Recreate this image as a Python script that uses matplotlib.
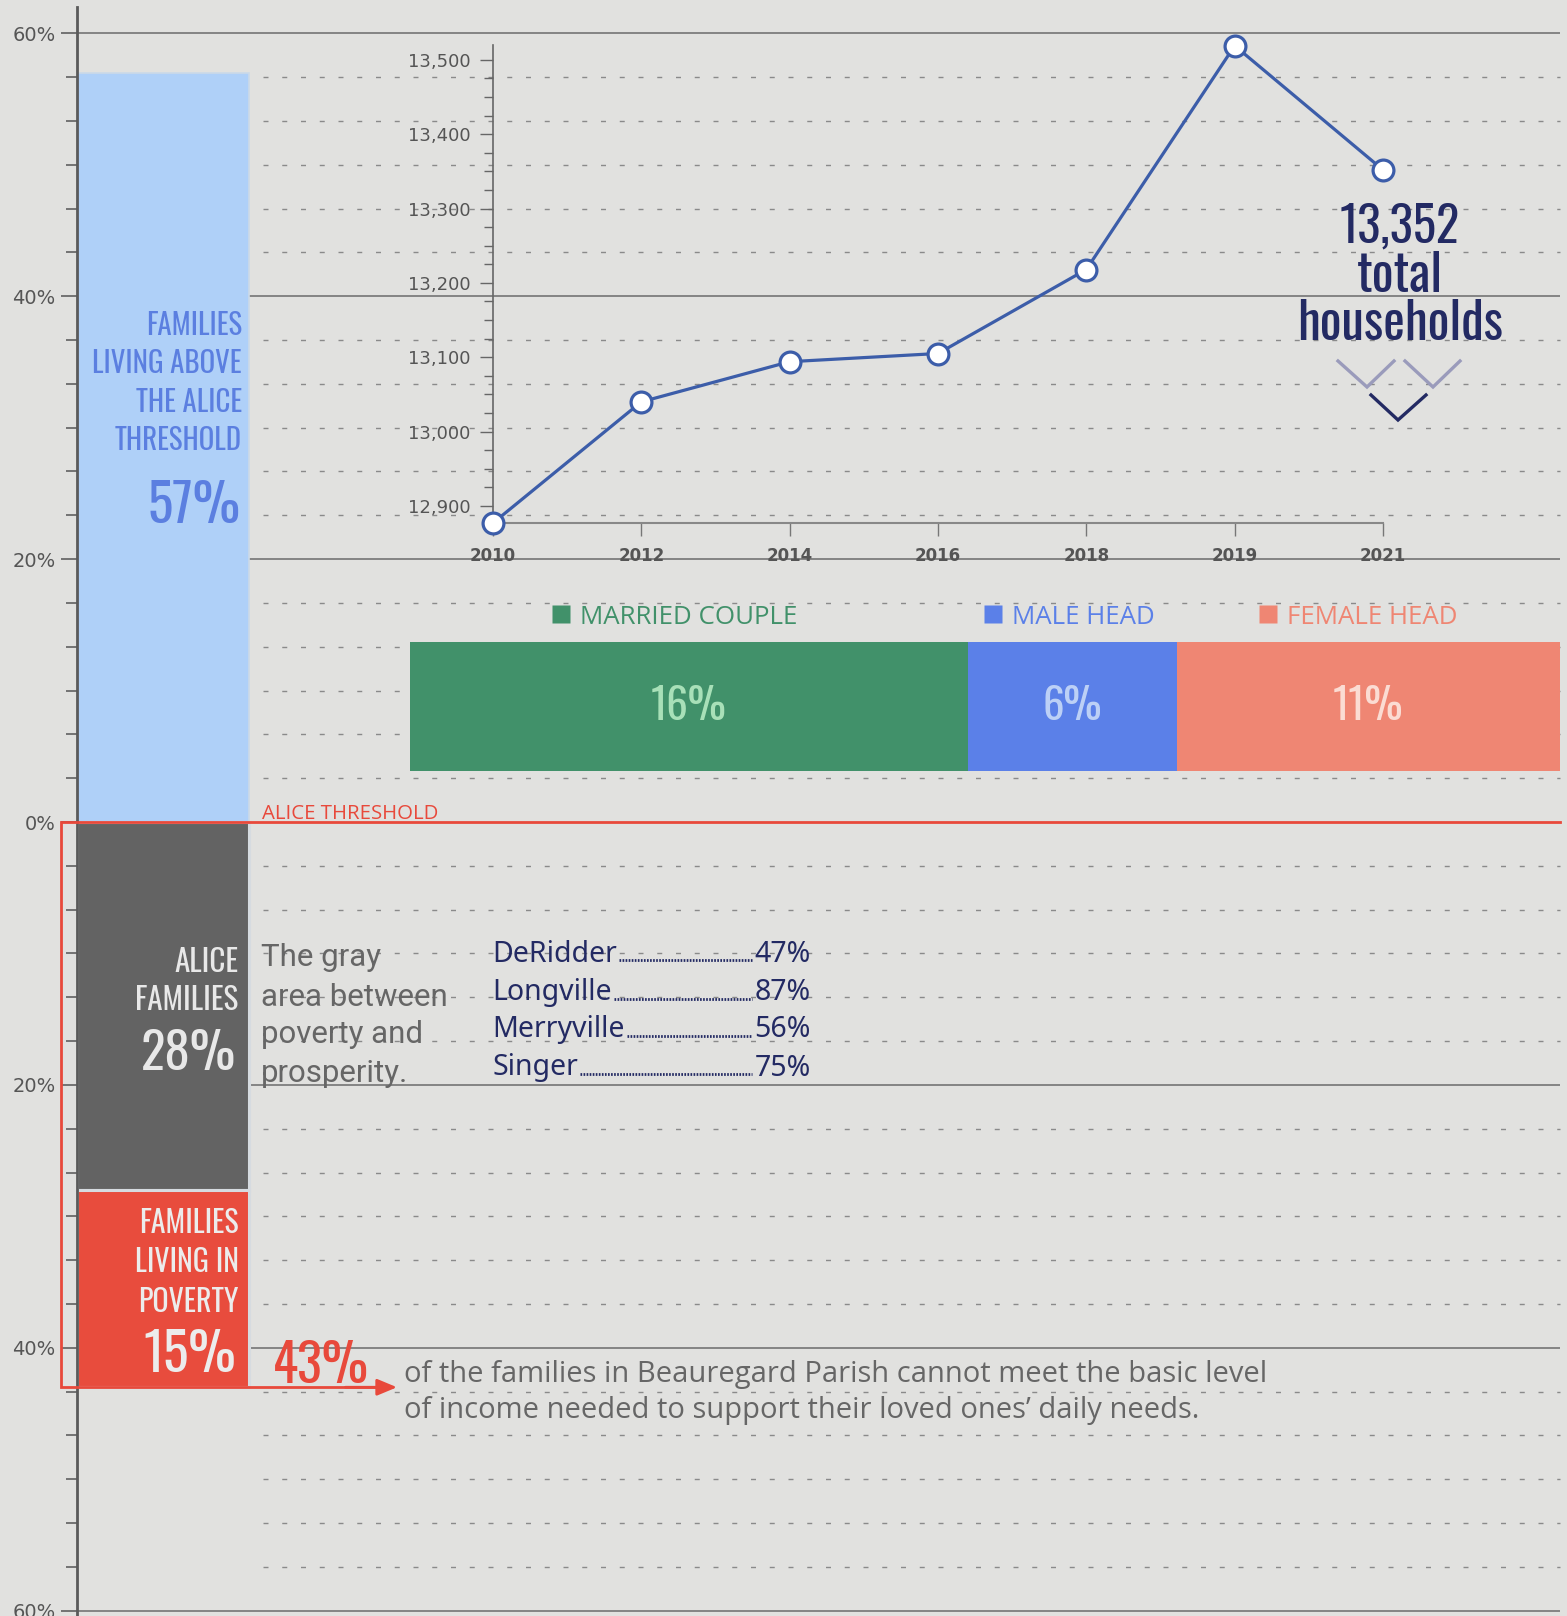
import matplotlib
matplotlib.use('Agg')
import matplotlib.pyplot as plt
from matplotlib import font_manager as fm
from matplotlib.textpath import TextPath
import numpy as np

# ---- data ----
years = ['2010', '2012', '2014', '2016', '2018', '2019', '2021']
households = [12877, 13040, 13094, 13105, 13218, 13519, 13352]
above_pct = 57
alice_pct = 28
poverty_pct = 15
family_types = ['MARRIED COUPLE', 'MALE HEAD', 'FEMALE HEAD']
family_pct = [16, 6, 11]
towns = ['DeRidder', 'Longville', 'Merryville', 'Singer']
town_pct = [47, 87, 56, 75]

# ---- look ----
W, H, DPI = 1567, 1616, 100
BG = '#e1e1df'
RED = '#e8493b'
NAVY = '#232a63'
GRAY_TXT = '#666666'
fam_colors = ['#41916a', '#5b80e8', '#ef8673']
fam_light = ['#a8e0b8', '#bcd0f6', '#fbdcd3']

avail = {f.name for f in fm.fontManager.ttflist}
def pick(cands, default='DejaVu Sans'):
    for c in cands:
        if c in avail:
            return c
    return default

COND = pick(['Oswald', 'League Gothic', 'Noto Sans ExtraCondensed', 'Noto Sans Condensed',
             'Roboto Condensed', 'Liberation Sans Narrow', 'DejaVu Sans Condensed'])
BODY = pick(['Open Sans'])
ROBO = pick(['Roboto'])
NOTO = pick(['Noto Sans'])
TICK = 'DejaVu Sans'

fig = plt.figure(figsize=(W / DPI, H / DPI), dpi=DPI, facecolor=BG)
rend = fig.canvas.get_renderer()

def fx(px):
    return px / W
def fy(py):
    return 1 - py / H

# ---- main percentage column ----
ax = fig.add_axes([fx(77), 0, 1 - fx(77), 1])
ax.set_facecolor('none')
unit = 172.0                      # bar width in px
xmax = (W - 77) / unit
ax.set_xlim(0, xmax)
ax.set_ylim(-60.40, 62.53)

ax.bar(0, above_pct, width=1, align='edge', color='#afd0f8', edgecolor='#cbd9e8', linewidth=1.2, zorder=2)
ax.bar(0, -alice_pct, width=1, align='edge', color='#636363', edgecolor='#d6dbe0', linewidth=2.2, zorder=2)
ax.bar(0, -poverty_pct, bottom=-alice_pct, width=1, align='edge', color='#e84c3d',
       edgecolor='#d6dbe0', linewidth=2.2, zorder=2)

major = np.arange(-60, 61, 20)
minor = np.arange(-60, 60.01, 20 / 6)
ax.set_yticks(major)
ax.set_yticklabels([f'{abs(v)}%' for v in major])
ax.set_yticks(minor, minor=True)
ax.set_xticks([])
ax.tick_params(axis='y', which='major', length=11.5, width=1.1, color='#555555', pad=4,
               labelsize=14, labelcolor='#555555')
ax.tick_params(axis='y', which='minor', length=8, width=1.1, color='#555555')
for lab in ax.get_yticklabels():
    lab.set_family(TICK)
for s in ['top', 'right', 'bottom']:
    ax.spines[s].set_visible(False)
ax.spines['left'].set_color('#5a5a5a')
ax.spines['left'].set_linewidth(2)
ax.spines['left'].set_bounds(-60.4, 62.0)
ax.spines['left'].set_zorder(4)

line_end = (1560 - 77) / unit
dash_vals = [v for v in minor if abs(round(v, 4) % 20) > 1e-3 and abs(round(v, 4) % 20 - 20) > 1e-3]
ax.hlines(dash_vals, (263 - 77) / unit, line_end, colors='#8a8a8a', lw=1,
          linestyles=(0, (3.6, 9.9)), zorder=1)
ax.hlines([v for v in major if v != 0], 0, line_end, colors='#6b6b6b', lw=1.1, zorder=1)

# ALICE threshold box + arrow
thr_bottom = -(alice_pct + poverty_pct)
xl = (61 - 77) / unit
tip = (397 - 77) / unit
ax.plot([line_end, xl, xl, tip - 0.1], [0, 0, thr_bottom, thr_bottom], color=RED, lw=2,
        clip_on=False, zorder=6, solid_joinstyle='miter')
ax.annotate('', xy=(tip, thr_bottom), xytext=(tip - 0.3, thr_bottom), annotation_clip=False,
            arrowprops=dict(arrowstyle='-|>,head_length=0.6,head_width=0.25', color=RED,
                            lw=2, mutation_scale=20, shrinkA=0, shrinkB=0), zorder=6)

# ---- households line chart ----
lx0, lx1, ly0, ly1 = 493, 1383, 45, 523
axl = fig.add_axes([fx(lx0), fy(ly1), fx(lx1) - fx(lx0), fy(ly0) - fy(ly1)])
axl.set_facecolor('none')
xs = np.arange(len(years))
axl.plot(xs, households, color='#3c5da9', lw=2.3, marker='o', ms=15, mfc='white',
         mec='#3c5da9', mew=2.3, clip_on=False, zorder=5)
axl.set_xlim(0, len(years) - 1)
axl.set_ylim(12877, 13520)
axl.set_xticks(xs)
axl.set_xticklabels(years, family=TICK, weight='bold', fontsize=12, color='#555555')
yt = np.arange(12900, 13501, 100)
axl.set_yticks(yt)
axl.set_yticklabels([f'{v:,}' for v in yt], family=TICK, fontsize=13, color='#555555')
axl.set_yticks(np.arange(12900, 13501, 25), minor=True)
axl.tick_params(axis='y', which='major', length=9.4, width=1, color='#666666', pad=7)
axl.tick_params(axis='y', which='minor', length=6.5, width=1, color='#666666')
axl.tick_params(axis='x', length=9.4, width=1, color='#777777', pad=8)
for s in ['top', 'right']:
    axl.spines[s].set_visible(False)
axl.spines['left'].set_color('#666666')
axl.spines['left'].set_linewidth(1.2)
axl.spines['bottom'].set_color('#888888')
axl.spines['bottom'].set_linewidth(1.5)

# ---- family type stacked bar ----
bx0, bx1, by0, by1 = 410, 1560, 642, 771
axb = fig.add_axes([fx(bx0), fy(by1), fx(bx1) - fx(bx0), fy(by0) - fy(by1)])
axb.axis('off')
axb.set_xlim(0, sum(family_pct))
axb.set_ylim(-0.5, 0.5)

# ---- overlay for text and decoration (pixel coordinates) ----
ov = fig.add_axes([0, 0, 1, 1])
ov.set_xlim(0, W)
ov.set_ylim(H, 0)
ov.axis('off')
ov.patch.set_alpha(0)

def cap_ratio(family, weight):
    p = TextPath((0, 0), 'H', size=100, prop=fm.FontProperties(family=family, weight=weight))
    return p.get_extents().height / 100

def fit_size(lines, family, weight, cap_px, max_w):
    size = cap_px / cap_ratio(family, weight) * 72 / DPI
    widest = 0
    for s in lines:
        t = ov.text(0, 0, s, fontsize=size, family=family, weight=weight)
        widest = max(widest, t.get_window_extent(rend).width)
        t.remove()
    if widest > max_w:
        size *= max_w / widest
    return size

def block(lines, baselines, x, cap_px, max_w, color, weight='bold', ha='right', family=COND):
    size = fit_size(lines, family, weight, cap_px, max_w)
    for s, b in zip(lines, baselines):
        ov.text(x, b, s, fontsize=size, family=family, weight=weight, color=color,
                ha=ha, va='baseline')

# stacked bar segments and labels
left = 0
num_size = fit_size(['16%'], COND, 'normal', 36, 76)
for name, v, c, lc in zip(family_types, family_pct, fam_colors, fam_light):
    axb.barh(0, v, left=left, height=1, color=c)
    axb.text(left + v / 2, 0, f'{v}%', fontsize=num_size, family=COND, color=lc,
             ha='center', va='center')
    left += v

# legend
leg_size = fit_size(['MARRIED COUPLE'], BODY, 'normal', 18.5, 228)
for name, c, sx in zip(family_types, fam_colors, [561, 993, 1268]):
    ov.plot([sx], [614], marker='s', ms=12.5, color=c, mec='none')
    ov.text(sx + 19, 614, name, fontsize=leg_size, family=BODY, color=c, ha='left', va='center_baseline')

# column labels
BLUE_T = '#5b7fe0'
block(['FAMILIES', 'LIVING ABOVE', 'THE ALICE', 'THRESHOLD'], [335, 373, 411.5, 450], 242, 27.5, 149, BLUE_T)
block([f'{above_pct}%'], [523], 240, 43, 95, BLUE_T)
block(['ALICE', 'FAMILIES'], [971.5, 1010.5], 238, 27, 103, '#e8e8e8')
block([f'{alice_pct}%'], [1070], 236, 43, 95, '#e8e8e8')
block(['FAMILIES', 'LIVING IN', 'POVERTY'], [1233, 1271.5, 1311.5], 239, 27, 104, '#ececec')
block([f'{poverty_pct}%'], [1371.5], 236, 43, 95, '#ececec')
block([f'{alice_pct + poverty_pct}%'], [1383], 273, 42, 96, RED, weight='normal', ha='left')

ov.text(262, 819, 'ALICE THRESHOLD', fontsize=14.7, family=BODY, color=RED, ha='left', va='baseline')

# total households callout
block([f'{households[-1]:,}'], [243], 1400, 41.5, 120, NAVY, ha='center')
block(['total'], [291.5], 1400, 41.5, 90, NAVY, ha='center')
block(['households'], [340], 1400, 41.5, 218, NAVY, ha='center')
for pts, col in [([(1338, 361), (1367, 387), (1394, 361)], '#9a9bbb'),
                 ([(1405, 361), (1433, 387), (1460, 361)], '#9a9bbb'),
                 ([(1371, 395), (1398, 420), (1426, 395)], NAVY)]:
    ov.plot([p[0] for p in pts], [p[1] for p in pts], color=col, lw=2.4, solid_joinstyle='miter')

# gray area description
for s, b in zip(['The gray', 'area between', 'poverty and', 'prosperity.'], [966.5, 1005.5, 1043, 1081.5]):
    ov.text(261, b, s, fontsize=22.5, family=ROBO, color=GRAY_TXT, ha='left', va='baseline')

# towns list with dot leaders
for name, v, b in zip(towns, town_pct, [961.5, 1000, 1037, 1075.5]):
    t1 = ov.text(492, b, name, fontsize=20.5, family=NOTO, color=NAVY, ha='left', va='baseline')
    t2 = ov.text(811, b, f'{v}%', fontsize=20.5, family=NOTO, color=NAVY, ha='right', va='baseline')
    e1 = t1.get_window_extent(rend)
    e2 = t2.get_window_extent(rend)
    ov.plot([e1.x1 + 2, e2.x0 - 3], [b - 1.5, b - 1.5], color=NAVY, lw=2,
            linestyle=(0, (0.6, 0.5)))

# bottom statement
stmt = ['of the families in Beauregard Parish cannot meet the basic level',
        "of income needed to support their loved ones\u2019 daily needs."]
t = ov.text(0, 0, stmt[0], fontsize=20, family=BODY)
sw = t.get_window_extent(rend).width
t.remove()
ssize = min(21, max(17, 20 * 875 / sw))
for s, b in zip(stmt, [1382, 1418]):
    ov.text(404, b, s, fontsize=ssize, family=BODY, color=GRAY_TXT, ha='left', va='baseline')

fig.savefig('out.png', dpi=DPI, facecolor=BG)
